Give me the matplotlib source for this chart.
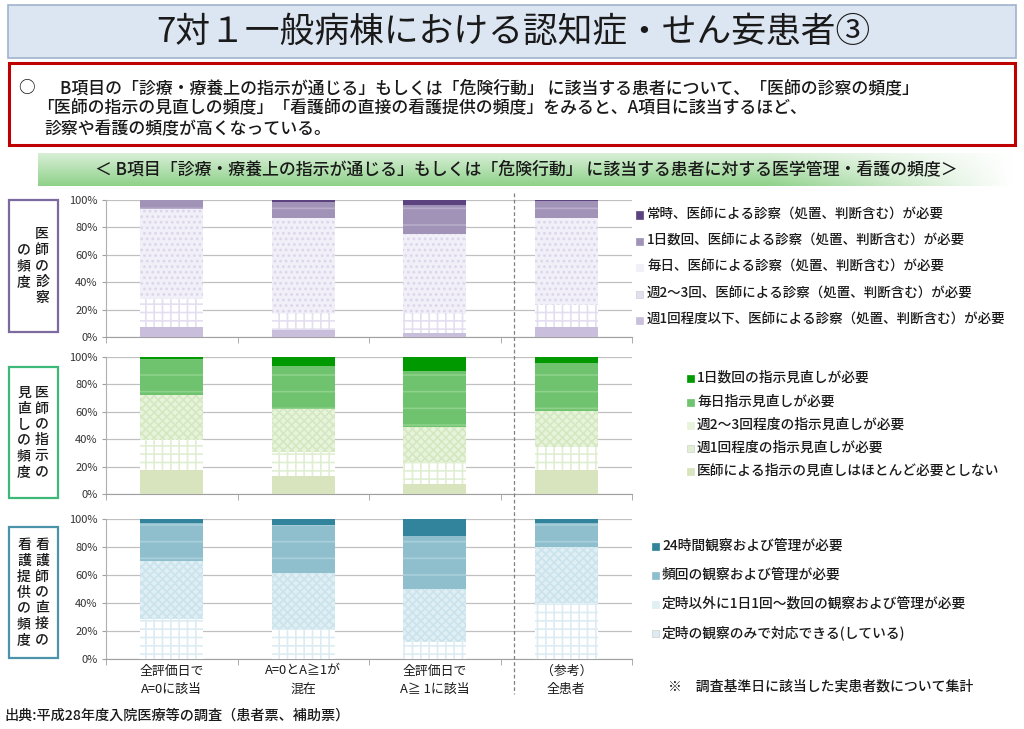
import numpy as np
import matplotlib
matplotlib.use("Agg")
import matplotlib.pyplot as plt
from matplotlib.patches import Rectangle
from matplotlib.lines import Line2D

plt.rcParams['font.family'] = ['Noto Sans CJK JP', 'DejaVu Sans']
plt.rcParams['hatch.linewidth'] = 1.2

# ---------------- data ----------------
categories = ["全評価日で\nA=0に該当", "A=0とA≧1が\n混在", "全評価日で\nA≧ 1に該当", "（参考）\n全患者"]

# panel 1 : 医師の診察の頻度 (bottom -> top)
p1_labels = ["週1回程度以下、医師による診察（処置、判断含む）が必要",
             "週2〜3回、医師による診察（処置、判断含む）が必要",
             "毎日、医師による診察（処置、判断含む）が必要",
             "1日数回、医師による診察（処置、判断含む）が必要",
             "常時、医師による診察（処置、判断含む）が必要"]
p1_week1 = [7.0, 5.0, 3.2, 7.5]
p1_week23 = [20.7, 12.8, 14.1, 15.6]
p1_daily = [65.5, 68.8, 57.9, 64.0]
p1_multi = [6.5, 11.7, 21.2, 12.4]
p1_always = [0.3, 1.7, 3.6, 0.5]

# panel 2 : 医師の指示の見直しの頻度 (bottom -> top)
p2_labels = ["医師による指示の見直しはほとんど必要としない",
             "週1回程度の指示見直しが必要",
             "週2〜3回程度の指示見直しが必要",
             "毎日指示見直しが必要",
             "1日数回の指示見直しが必要"]
p2_none = [17.2, 13.3, 7.5, 17.7]
p2_week1 = [22.3, 17.7, 16.2, 16.5]
p2_week23 = [32.7, 31.0, 25.5, 26.3]
p2_daily = [26.1, 31.5, 40.7, 35.4]
p2_multi = [1.7, 6.5, 10.1, 4.1]

# panel 3 : 看護師の直接の看護提供の頻度 (bottom -> top)
p3_labels = ["定時の観察のみで対応できる(している)",
             "定時以外に1日1回〜数回の観察および管理が必要",
             "頻回の観察および管理が必要",
             "24時間観察および管理が必要"]
p3_regular = [28.6, 21.2, 12.4, 40.2]
p3_extra = [41.6, 40.0, 37.6, 39.6]
p3_freq = [26.7, 34.5, 38.1, 17.1]
p3_24h = [3.1, 4.3, 11.9, 3.1]

yticks = [0, 20, 40, 60, 80, 100]
ytick_labels = ["0%", "20%", "40%", "60%", "80%", "100%"]

# styles: (facecolor, hatch, hatchcolor)
p1_styles = [("#c9bfdc", None, None),
             ("#ffffff", "++", "#e3def0"),
             ("#f1eff8", "...", "#dcd6ea"),
             ("#a193b8", "-", "#b8adcb"),
             ("#5c4380", None, None)]
p2_styles = [("#d7e4bd", None, None),
             ("#ffffff", "++", "#e0eed2"),
             ("#e8f3dc", "xxxx", "#d3e8c0"),
             ("#6fc26e", "-", "#8ed28c"),
             ("#009a00", None, None)]
p3_styles = [("#ffffff", "++", "#dcecf2"),
             ("#dfeff4", "xxxx", "#cbe3ec"),
             ("#8fbfcd", "-", "#a9cfdb"),
             ("#31849b", None, None)]

W, H = 1024, 729
fig = plt.figure(figsize=(W / 100, H / 100), dpi=100)
fig.patch.set_facecolor("white")
TXT = "#1a1a1a"
WT = "medium"


def fx(px):
    return px / W


def fy(py):
    return 1 - py / H


# ---------------- header ----------------
fig.patches.append(Rectangle((fx(8), fy(58)), fx(1008), 53 / H, transform=fig.transFigure,
                             facecolor="#dce6f2", edgecolor="#9fb3cc", lw=1.2))
fig.text(fx(513), fy(32), "7対１一般病棟における認知症・せん妄患者③", ha="center", va="center",
         fontsize=25, color=TXT)

fig.patches.append(Rectangle((fx(9), fy(145)), fx(1006), 82 / H, transform=fig.transFigure,
                             facecolor="white", edgecolor="#c00000", lw=2.2))
fig.text(fx(18), fy(88), "○", ha="left", va="center", fontsize=12, fontweight=WT, color=TXT)
fig.text(fx(60), fy(88), "B項目の「診療・療養上の指示が通じる」もしくは「危険行動」 に該当する患者について、「医師の診察の頻度」",
         ha="left", va="center", fontsize=12.2, fontweight=WT, color=TXT)
fig.text(fx(37), fy(108), "「医師の指示の見直しの頻度」「看護師の直接の看護提供の頻度」をみると、A項目に該当するほど、",
         ha="left", va="center", fontsize=12.2, fontweight=WT, color=TXT)
fig.text(fx(44), fy(129), "診察や看護の頻度が高くなっている。", ha="left", va="center", fontsize=12.2,
         fontweight=WT, color=TXT)

# green banner with gradient
bax = fig.add_axes([fx(38), fy(186), fx(975), 33 / H])
bax.set_axis_off()
ny, nx = 40, 400
yy = np.linspace(0, 1, ny)[:, None]          # 0 top -> 1 bottom
xx = np.linspace(0, 1, nx)[None, :]
green = np.array([0.56, 0.82, 0.54])
amount = (0.35 + 0.65 * yy) * np.clip(1.0 - np.maximum(xx - 0.75, 0) / 0.25, 0, 1)
img = np.ones((ny, nx, 3)) * (1 - amount[..., None]) + green * amount[..., None]
bax.imshow(img, aspect="auto", extent=[0, 1, 0, 1])
fig.text(fx(526), fy(169), "＜ B項目「診療・療養上の指示が通じる」もしくは「危険行動」 に該当する患者に対する医学管理・看護の頻度＞",
         ha="center", va="center", fontsize=12.2, color=TXT, fontweight=WT)

# ---------------- panels ----------------
x = np.arange(len(categories))
bar_w = 0.48


def make_panel(top_px, bot_px, series, styles):
    ax = fig.add_axes([fx(106), fy(bot_px), fx(526), (bot_px - top_px) / H])
    bottom = np.zeros(len(x))
    for vals, (fc, hatch, hc) in zip(series, styles):
        vals = np.array(vals)
        bars = ax.bar(x, vals, bar_w, bottom=bottom, color=fc, zorder=3, linewidth=0)
        if hatch:
            for b in bars:
                b.set_hatch(hatch)
                b.set_edgecolor(hc)
                b.set_linewidth(0)
        bottom += vals
    ax.set_xlim(-0.5, 3.5)
    ax.set_ylim(0, 100)
    ax.set_yticks(yticks)
    ax.set_yticklabels(ytick_labels)
    ax.yaxis.grid(True, color="#c0c0c0", lw=0.9, zorder=0)
    ax.tick_params(axis="y", length=3, color="#a0a0a0", labelsize=8, labelcolor="#333333", pad=3)
    ax.set_xticks(np.arange(-0.5, 4, 1.0), minor=True)
    ax.tick_params(axis="x", which="minor", length=4, color="#a0a0a0", direction="out")
    ax.set_xticks(x)
    ax.tick_params(axis="x", which="major", length=0)
    ax.set_xticklabels([])
    for s in ["top", "right"]:
        ax.spines[s].set_visible(False)
    ax.spines["left"].set_color("#b0b0b0")
    ax.spines["bottom"].set_color("#a0a0a0")
    return ax


ax1 = make_panel(200, 337, [p1_week1, p1_week23, p1_daily, p1_multi, p1_always], p1_styles)
ax2 = make_panel(357, 494, [p2_none, p2_week1, p2_week23, p2_daily, p2_multi], p2_styles)
ax3 = make_panel(519, 659, [p3_regular, p3_extra, p3_freq, p3_24h], p3_styles)
ax3.set_xticklabels(categories, fontsize=9.3, linespacing=1.5, color=TXT)
ax3.tick_params(axis="x", which="major", pad=4)

# dashed separator between panel categories 3 and 4
fig.canvas.draw()
xd = fig.transFigure.inverted().transform(ax1.transData.transform((2.6, 0)))[0]
fig.lines.append(Line2D([xd, xd], [fy(193), fy(694)], transform=fig.transFigure,
                        color="#808080", lw=0.9, ls=(0, (3, 2))))

# ---------------- y label boxes ----------------
def label_box(top_px, bot_px, color, right, left):
    fig.patches.append(Rectangle((fx(9), fy(bot_px)), fx(49), (bot_px - top_px) / H,
                                 transform=fig.transFigure, facecolor="white",
                                 edgecolor=color, lw=1.6))
    cy = fy((top_px + bot_px) / 2)
    fig.text(fx(42), cy, "\n".join(right), ha="center", va="center", fontsize=10,
             linespacing=1.18, color=TXT, fontweight=WT)
    fig.text(fx(24), cy, "\n".join(left), ha="center", va="center", fontsize=10,
             linespacing=1.18, color=TXT, fontweight=WT)


label_box(200, 332, "#7b6a9e", "医師の診察", "の頻度")
label_box(367, 498, "#3cb878", "医師の指示の", "見直しの頻度")
label_box(527, 658, "#4a93a8", "看護師の直接の", "看護提供の頻度")

# ---------------- legends ----------------
def legend(x_marker, x_text, ys, labels, styles, fs):
    for yp, lab, (fc, hatch, hc) in zip(ys, labels, styles):
        c = hc if (fc == "#ffffff" and hc) else fc
        fig.patches.append(Rectangle((fx(x_marker), fy(yp + 3.5)), fx(7), 7 / H,
                                     transform=fig.transFigure, facecolor=c,
                                     edgecolor="#d0d0d0" if fc == "#ffffff" else c, lw=0.5))
        fig.text(fx(x_text), fy(yp), lab, ha="left", va="center", fontsize=fs, color=TXT,
                 fontweight=WT)


legend(636, 647, [215, 241, 267, 294, 320], p1_labels[::-1], p1_styles[::-1], 9.7)
legend(687, 697, [378, 402, 425, 448, 471], p2_labels[::-1], p2_styles[::-1], 9.9)
legend(652, 662, [546, 575, 604, 633], p3_labels[::-1], p3_styles[::-1], 9.9)

# ---------------- notes ----------------
fig.text(fx(668), fy(686), "※　調査基準日に該当した実患者数について集計", ha="left", va="center",
         fontsize=10, color=TXT, fontweight=WT)
fig.text(fx(4), fy(716), "出典:平成28年度入院医療等の調査（患者票、補助票）", ha="left", va="center",
         fontsize=10.2, color=TXT, fontweight=WT)

fig.savefig("out.png", dpi=100, facecolor="white")
